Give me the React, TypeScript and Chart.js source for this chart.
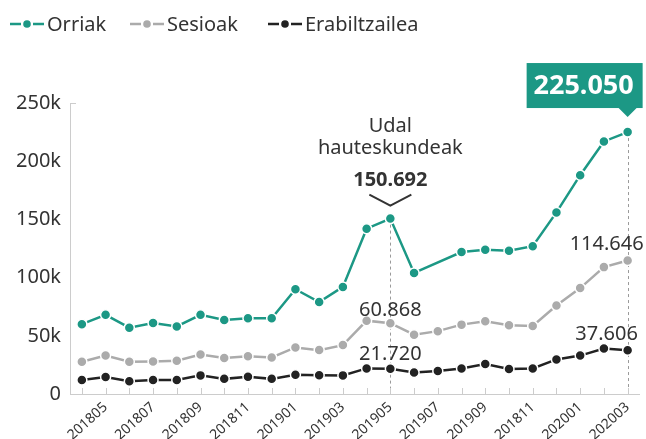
import React, { useEffect, useRef } from 'react';
import { Chart, registerables } from 'chart.js';

Chart.register(...registerables);

const months = [
  '201804', '201805', '201806', '201807', '201808', '201809', '201810', '201811',
  '201812', '201901', '201902', '201903', '201904', '201905', '201906', '201907',
  '201908', '201909', '201910', '201911', '201912', '202001', '202002', '202003',
];

// Tick labels as printed on the reference (every other month)
const xTickLabels = [
  '', '201805', '', '201807', '', '201809', '', '201811',
  '', '201901', '', '201903', '', '201905', '', '201907',
  '', '201909', '', '201811', '', '202001', '', '202003',
];

const orriak = [
  60000, 68000, 57000, 61000, 58000, 68000, 63600, 65000,
  65000, 90000, 79000, 92000, 142000, 150692, 104000, null,
  122000, 124000, 123000, 127000, 156000, 188000, 217000, 225050,
];
const sesioak = [
  27700, 33000, 27700, 28000, 28500, 34000, 31000, 32500,
  31400, 40000, 37700, 42000, 63000, 60868, 51000, 54000,
  59600, 62500, 59000, 58500, 76000, 91000, 109000, 114646,
];
const erabiltzailea = [
  12000, 14600, 11000, 12000, 12000, 16000, 13000, 14800,
  13000, 16500, 16200, 16000, 22000, 21720, 18500, 19700,
  22000, 25700, 21400, 22000, 29700, 33000, 39000, 37606,
];

const seriesNames = ['Orriak', 'Sesioak', 'Erabiltzailea'];
const TEAL = '#1c9885';
const GRAY = '#ababab';
const DARK = '#222222';
const seriesColors = [TEAL, GRAY, DARK];

const FONT = "'Noto Sans', sans-serif";
const TEXT = '#333333';

const fmt = (v: number) => {
  const s = String(Math.round(v));
  return s.replace(/\B(?=(\d{3})+(?!\d))/g, '.');
};

const decorPlugin = {
  id: 'decor',
  beforeDatasetsDraw(chart: any) {
    const ctx = chart.ctx;
    const area = chart.chartArea;
    const m0 = chart.getDatasetMeta(0);
    ctx.save();
    // dashed verticals
    ctx.strokeStyle = '#9a9a9a';
    ctx.lineWidth = 1;
    ctx.setLineDash([3, 3]);
    [13, 23].forEach((i) => {
      const p = m0.data[i];
      ctx.beginPath();
      ctx.moveTo(Math.round(p.x) + 0.5, p.y);
      ctx.lineTo(Math.round(p.x) + 0.5, area.bottom);
      ctx.stroke();
    });
    ctx.setLineDash([]);
    // small x ticks
    const xs = chart.scales.x;
    ctx.strokeStyle = '#cccccc';
    for (let i = 0; i < months.length; i++) {
      const x = Math.round(xs.getPixelForValue(i)) + 0.5;
      ctx.beginPath();
      ctx.moveTo(x, area.bottom);
      ctx.lineTo(x, area.bottom - 6);
      ctx.stroke();
    }
    // y top stub
    const ys = chart.scales.y;
    const yt = Math.round(ys.getPixelForValue(250000)) + 0.5;
    ctx.beginPath();
    ctx.moveTo(area.left, yt);
    ctx.lineTo(area.left + 6, yt);
    ctx.stroke();
    ctx.restore();
  },
  afterDraw(chart: any) {
    const ctx = chart.ctx;
    const m0 = chart.getDatasetMeta(0);
    const m1 = chart.getDatasetMeta(1);
    const m2 = chart.getDatasetMeta(2);
    ctx.save();
    ctx.textAlign = 'center';
    ctx.textBaseline = 'middle';
    ctx.fillStyle = TEXT;

    // election annotation
    const pe = m0.data[13];
    ctx.font = `20px ${FONT}`;
    ctx.fillText('Udal', pe.x, pe.y - 92);
    ctx.fillText('hauteskundeak', pe.x, pe.y - 70);
    ctx.font = `bold 20px ${FONT}`;
    ctx.fillText(fmt(orriak[13] as number), pe.x, pe.y - 38);
    ctx.strokeStyle = '#333';
    ctx.lineWidth = 2;
    ctx.beginPath();
    ctx.moveTo(pe.x - 21, pe.y - 24);
    ctx.lineTo(pe.x, pe.y - 13);
    ctx.lineTo(pe.x + 21, pe.y - 24);
    ctx.stroke();

    // other value labels
    ctx.font = `20px ${FONT}`;
    const s13 = m1.data[13];
    ctx.fillText(fmt(sesioak[13]), s13.x, s13.y - 13);
    const e13 = m2.data[13];
    ctx.fillText(fmt(erabiltzailea[13]), e13.x, e13.y - 14);
    const s23 = m1.data[23];
    ctx.fillText(fmt(sesioak[23]), s23.x - 21, s23.y - 16);
    const e23 = m2.data[23];
    ctx.fillText(fmt(erabiltzailea[23]), e23.x - 21, e23.y - 16);

    // highlighted final value box
    const pl = m0.data[23];
    const boxL = pl.x - 101;
    const boxR = pl.x + 15;
    const boxB = pl.y - 24;
    const boxT = boxB - 45;
    ctx.fillStyle = TEAL;
    ctx.fillRect(boxL, boxT, boxR - boxL, boxB - boxT);
    ctx.beginPath();
    ctx.moveTo(pl.x - 10, boxB - 1);
    ctx.lineTo(pl.x + 10, boxB - 1);
    ctx.lineTo(pl.x, pl.y - 15);
    ctx.closePath();
    ctx.fill();
    ctx.fillStyle = '#ffffff';
    ctx.font = `bold 27px ${FONT}`;
    ctx.fillText(fmt(orriak[23] as number), (boxL + boxR) / 2 - 1, (boxT + boxB) / 2 + 1);

    // legend
    const legendX = [10, 130, 268];
    const ly = 24;
    ctx.textAlign = 'left';
    ctx.font = `20px ${FONT}`;
    seriesNames.forEach((name, i) => {
      const x = legendX[i];
      ctx.strokeStyle = seriesColors[i];
      ctx.fillStyle = seriesColors[i];
      ctx.lineWidth = 2.5;
      ctx.beginPath();
      ctx.moveTo(x, ly);
      ctx.lineTo(x + 11, ly);
      ctx.moveTo(x + 23, ly);
      ctx.lineTo(x + 34, ly);
      ctx.stroke();
      ctx.beginPath();
      ctx.arc(x + 17, ly, 3.8, 0, Math.PI * 2);
      ctx.fill();
      ctx.fillStyle = TEXT;
      ctx.fillText(name, x + 37, ly + 1);
    });
    ctx.restore();
  },
};

export default function App() {
  const ref = useRef<HTMLCanvasElement>(null);
  useEffect(() => {
    document.body.style.margin = '0';
    const mkDs = (label: string, data: (number | null)[], color: string) => ({
      label,
      data,
      borderColor: color,
      backgroundColor: color,
      borderWidth: 2.5,
      pointRadius: 5,
      pointBorderColor: '#ffffff',
      pointBorderWidth: 1.5,
      pointBackgroundColor: color,
      tension: 0,
      spanGaps: true,
    });
    const chart = new Chart(ref.current as HTMLCanvasElement, {
      type: 'line',
      data: {
        labels: months,
        datasets: [
          { ...mkDs(seriesNames[0], orriak, TEAL), order: 1 } as any,
          { ...mkDs(seriesNames[1], sesioak, GRAY), order: 2 } as any,
          { ...mkDs(seriesNames[2], erabiltzailea, DARK), order: 3 } as any,
        ],
      },
      options: {
        responsive: false,
        animation: false,
        layout: { padding: { top: 103, right: 6, left: 0, bottom: 0 } },
        plugins: { legend: { display: false }, tooltip: { enabled: false } },
        scales: {
          x: {
            offset: true,
            grid: { drawOnChartArea: false, drawTicks: false },
            border: { color: '#cccccc', width: 1 },
            ticks: {
              autoSkip: false,
              maxRotation: 42,
              minRotation: 42,
              padding: 5,
              color: TEXT,
              font: { family: FONT, size: 14 },
              callback: (_v: any, i: number) => xTickLabels[i],
            },
            afterFit: (s: any) => { s.height = 45; },
          },
          y: {
            min: 0,
            max: 250000,
            grid: { drawOnChartArea: false, drawTicks: false },
            border: { color: '#cccccc', width: 1 },
            ticks: {
              stepSize: 50000,
              padding: 9,
              color: TEXT,
              font: { family: FONT, size: 20 },
              callback: (v: any) => (v === 0 ? '0' : `${v / 1000}k`),
            },
            afterFit: (s: any) => { s.width = 70; },
          },
        },
      },
      plugins: [decorPlugin],
    });
    return () => chart.destroy();
  }, []);
  return <canvas ref={ref} width={646} height={439} style={{ display: 'block' }} />;
}
